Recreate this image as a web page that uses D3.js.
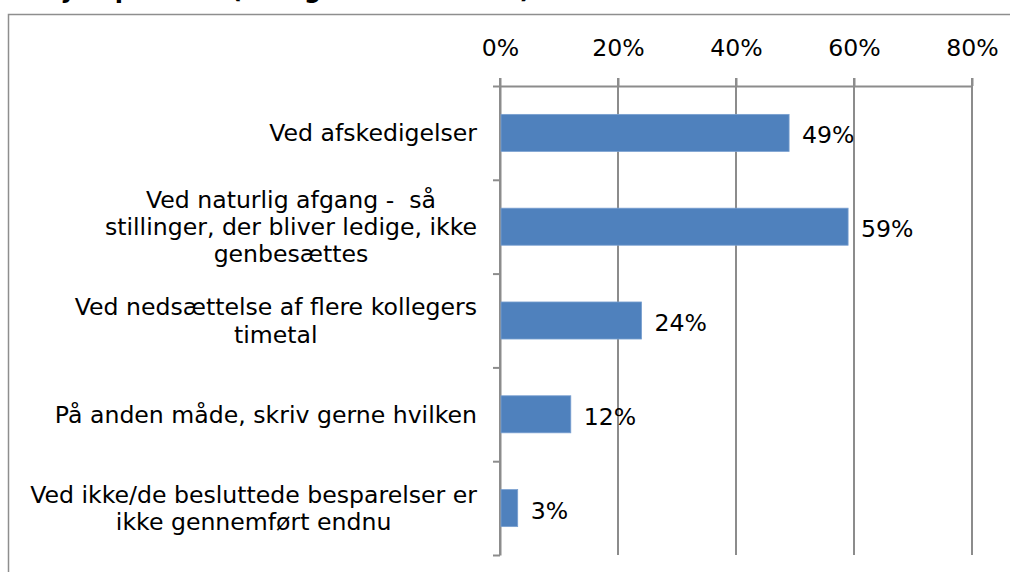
<!DOCTYPE html>
<html>
<head>
<meta charset="utf-8">
<script src="https://cdn.jsdelivr.net/npm/d3@7"></script>
<style>
  html, body { margin: 0; padding: 0; background: #fff; }
  svg { display: block; }
  text { font-family: "DejaVu Sans", Verdana, sans-serif; white-space: pre; }
</style>
</head>
<body>
<svg id="chart" width="1010" height="572"></svg>
<script>
// ---- data ----
const titleText = "Hvis ja - på hvad (Sæt gerne flere svar)";
const categories = [
  "Ved afskedigelser",
  "Ved naturlig afgang -  så\nstillinger, der bliver ledige, ikke\ngenbesættes",
  "Ved nedsættelse af flere kollegers\ntimetal",
  "På anden måde, skriv gerne hvilken",
  "Ved ikke/de besluttede besparelser er\nikke gennemført endnu"
];
const values = [49, 59, 24, 12, 3];
const tickValues = [0, 20, 40, 60, 80];
const tickLabels = ["0%", "20%", "40%", "60%", "80%"];

// ---- layout ----
const svg = d3.select("#chart");
const plotLeft = 500, plotRight = 972, plotTop = 86, plotBottom = 555;
const gridColor = "#8c8c8c";
const barColor = "#4f81bd";
const fontSize = 23.6;

// frame
svg.append("rect")
  .attr("x", 8.5).attr("y", 14.5)
  .attr("width", 1100).attr("height", 700)
  .attr("fill", "#fff").attr("stroke", "#8e8e8e").attr("stroke-width", 1.5);

// title (clipped at top)
svg.append("text")
  .attr("x", -3).attr("y", -2)
  .attr("font-size", 24).attr("font-weight", "bold")
  .attr("fill", "#000")
  .text(titleText);

const x = d3.scaleLinear().domain([0, 80]).range([plotLeft, plotRight]);
const yBand = d3.scaleBand().domain(categories).range([plotTop, plotBottom])
  .paddingInner(0.605).paddingOuter(0.3025);
const yTicks = d3.scaleLinear().domain([0, categories.length]).range([plotTop, plotBottom]);

// vertical gridlines
svg.append("g").selectAll("line").data(tickValues).join("line")
  .attr("x1", d => x(d)).attr("x2", d => x(d))
  .attr("y1", plotTop - 8).attr("y2", plotBottom)
  .attr("stroke", gridColor).attr("stroke-width", 2);

// top axis
const topAxis = d3.axisTop(x)
  .tickValues(tickValues)
  .tickFormat((d, i) => tickLabels[i])
  .tickSizeInner(8).tickSizeOuter(0).tickPadding(22);
const gTop = svg.append("g").attr("transform", `translate(0,${plotTop})`).call(topAxis);
gTop.select(".domain").attr("stroke", gridColor).attr("stroke-width", 2);
gTop.selectAll(".tick line").attr("stroke", gridColor).attr("stroke-width", 2);
gTop.selectAll(".tick text")
  .attr("font-family", "DejaVu Sans, Verdana, sans-serif")
  .attr("font-size", fontSize).attr("fill", "#000");

// left category axis (tick marks at band boundaries)
const leftAxis = d3.axisLeft(yTicks)
  .tickValues(d3.range(categories.length + 1))
  .tickFormat("")
  .tickSizeInner(7).tickSizeOuter(0);
const gLeft = svg.append("g").attr("transform", `translate(${plotLeft},0)`).call(leftAxis);
gLeft.select(".domain").attr("stroke", gridColor).attr("stroke-width", 2);
gLeft.selectAll(".tick line").attr("stroke", gridColor).attr("stroke-width", 2);

// bars
svg.append("g").selectAll("rect").data(values).join("rect")
  .attr("x", x(0) + 1)
  .attr("y", (d, i) => yBand(categories[i]))
  .attr("width", d => x(d) - x(0) - 1)
  .attr("height", yBand.bandwidth())
  .attr("fill", barColor)
  .attr("stroke", "#7aa0d0").attr("stroke-width", 0.8);

// value labels
svg.append("g").selectAll("text").data(values).join("text")
  .attr("x", d => x(d) + 13)
  .attr("y", (d, i) => yBand(categories[i]) + yBand.bandwidth() / 2 + 2)
  .attr("dy", "0.36em")
  .attr("font-size", fontSize).attr("fill", "#000")
  .text(d => d + "%");

// category labels: multi-line, centred block, right edge at 477
const labelRight = 477;
const lineH = 27.3;
const gLab = svg.append("g");
categories.forEach((c, i) => {
  const lines = c.split("\n");
  const cy = yBand(categories[i]) + yBand.bandwidth() / 2;
  const t = gLab.append("text")
    .attr("font-size", fontSize).attr("fill", "#000")
    .attr("text-anchor", "middle");
  const spans = lines.map((ln, j) => t.append("tspan")
    .attr("y", cy + (j - (lines.length - 1) / 2) * lineH)
    .attr("dy", "0.36em")
    .text(ln));
  const maxW = d3.max(spans, s => s.node().getComputedTextLength());
  spans.forEach(s => s.attr("x", labelRight - maxW / 2));
});
</script>
</body>
</html>
